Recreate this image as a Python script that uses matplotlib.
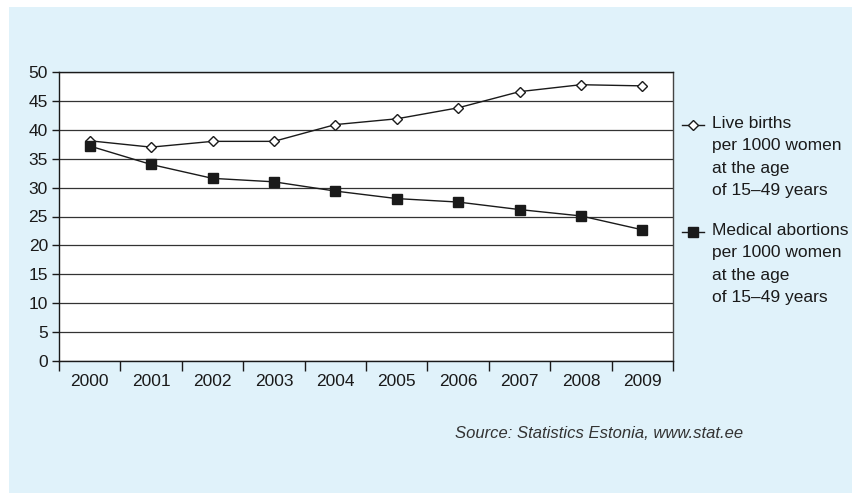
import matplotlib.pyplot as plt
from matplotlib.lines import Line2D
from matplotlib.patches import Rectangle

plt.rcParams["font.family"] = ["Liberation Sans", "DejaVu Sans"]

years = ["2000", "2001", "2002", "2003", "2004", "2005", "2006", "2007", "2008", "2009"]
live_births = [38.1, 37.0, 38.0, 38.0, 40.9, 41.9, 43.8, 46.6, 47.8, 47.6]
abortions = [37.2, 34.0, 31.6, 31.0, 29.4, 28.1, 27.5, 26.2, 25.1, 22.7]
label_births = "Live births\nper 1000 women\nat the age\nof 15\u201349 years"
label_abortions = "Medical abortions\nper 1000 women\nat the age\nof 15\u201349 years"
source = "Source: Statistics Estonia, www.stat.ee"

W, H = 852, 493
fig = plt.figure(figsize=(W / 100, H / 100), dpi=100)
fig.patch.set_facecolor("white")
fig.add_artist(Rectangle((9 / W, 0), 1, 1 - 7 / H, transform=fig.transFigure,
                         facecolor="#e0f2fa", edgecolor="none", zorder=0))

ax = fig.add_axes([59 / W, 1 - 361 / H, (673 - 59) / W, (361 - 72) / H])
ax.set_facecolor("white")

x = list(range(len(years)))
ax.plot(x, live_births, color="#1a1a1a", lw=1.0, marker="D", ms=5.5,
        mfc="white", mec="#1a1a1a", mew=1.0, zorder=3)
ax.plot(x, abortions, color="#1a1a1a", lw=1.0, marker="s", ms=7.5,
        mfc="#1a1a1a", mec="#1a1a1a", zorder=3)

ax.set_xlim(-0.5, len(years) - 0.5)
ax.set_ylim(0, 50)
ax.set_yticks(range(0, 51, 5))
ax.yaxis.grid(True, color="#333333", lw=0.9)
ax.set_axisbelow(True)

ax.set_xticks([i + 0.5 for i in range(-1, len(years))])
ax.set_xticklabels([])
ax.set_xticks(x, minor=True)
ax.set_xticklabels(years, minor=True)
ax.tick_params(axis="x", which="major", length=7, width=1, color="#1a1a1a", direction="out")
ax.tick_params(axis="x", which="minor", length=0, pad=9, labelsize=12.5, labelcolor="#1a1a1a")
ax.tick_params(axis="y", length=5, width=1, color="#1a1a1a", labelsize=12.5,
               labelcolor="#1a1a1a", pad=3)

for side in ["left", "bottom", "top"]:
    ax.spines[side].set_color("#1a1a1a")
    ax.spines[side].set_linewidth(1.0)
ax.spines["right"].set_color("#444444")
ax.spines["right"].set_linewidth(1.0)

# legend drawn by hand so the marker sits beside the first line of text
for y_px, style, text in [(125, dict(marker="D", ms=5.5, mfc="white"), label_births),
                          (232, dict(marker="s", ms=7.5, mfc="#1a1a1a"), label_abortions)]:
    yf = 1 - y_px / H
    fig.add_artist(Line2D([682 / W, 704 / W], [yf, yf], transform=fig.transFigure,
                          color="#1a1a1a", lw=1.0, zorder=5))
    fig.add_artist(Line2D([693 / W], [yf], transform=fig.transFigure, color="#1a1a1a",
                          mec="#1a1a1a", mew=1.0, zorder=6, **style))
    fig.text(712 / W, yf + 9 / H, text, ha="left", va="top", fontsize=12.5,
             color="#1a1a1a", linespacing=1.62)

fig.text(455 / W, 1 - 434 / H, source, ha="left", va="center", fontsize=12,
         style="italic", color="#333333")

fig.savefig("out.png", dpi=100)
